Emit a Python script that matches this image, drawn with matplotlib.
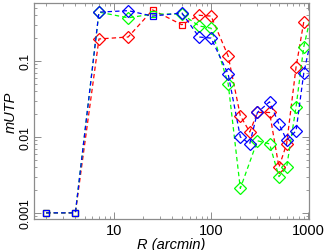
import numpy as np
import matplotlib
matplotlib.use("Agg")
import matplotlib.pyplot as plt
from matplotlib.ticker import LogLocator, FixedLocator, FixedFormatter, NullFormatter

plt.rcParams['font.family'] = ['Liberation Sans', 'DejaVu Sans']

# radius grid (arcmin)
r_blue = [2, 4, 7, 14, 25, 50, 75, 100, 150, 200, 250, 300, 400, 500, 600, 750, 900, 1200]
m_blue = [0.001, 0.001, 0.44, 0.46, 0.39, 0.43, 0.207, 0.20, 0.067, 0.010, 0.0081,
          0.021, 0.029, 0.0148, 0.0091, 0.012, 0.069, 0.38]
s_blue = ['s', 's', 'D', 'D', 's', 'D', 'D', 'D', 'D', 'D', 'D', 'D', 'D', 'D', 'D', 'D', 'D', 'D']

r_red = [2, 4, 7, 14, 25, 50, 75, 100, 150, 200, 250, 300, 400, 500, 600, 750, 900]
m_red = [0.001, 0.001, 0.195, 0.207, 0.47, 0.30, 0.40, 0.39, 0.116, 0.019, 0.0116,
         0.021, 0.021, 0.0040, 0.0081, 0.083, 0.326]
s_red = ['s', 's', 'D', 'D', 's', 's', 'D', 'D', 'D', 'D', 'D', 'D', 'D', 'D', 'D', 'D', 'D']

r_green = [2, 4, 7, 14, 25, 50, 75, 100, 150, 200, 300, 400, 500, 600, 750, 900, 1200]
m_green = [0.001, 0.001, 0.44, 0.37, 0.415, 0.415, 0.29, 0.27, 0.050, 0.0021, 0.0089,
           0.0081, 0.0030, 0.0040, 0.0248, 0.153, 0.76]
s_green = ['s', 's', 'D', 'D', 's', 'D', 'D', 'D', 'D', 'D', 'D', 'D', 'D', 'D', 'D', 'D', 'D']

fig = plt.figure(figsize=(3.27, 2.51), dpi=100)
ax = fig.add_axes([0.104, 0.1235, 0.841, 0.8605])

for r, m, s, c in [(r_red, m_red, s_red, '#ff0000'),
                   (r_green, m_green, s_green, '#00ff00'),
                   (r_blue, m_blue, s_blue, '#0000ff')]:
    ax.plot(r, m, color=c, lw=0.9, ls=(0, (3.5, 2.5)))
    for xi, yi, mk in zip(r, m, s):
        ax.plot([xi], [yi], marker=mk, ms=6.3 if mk == 'D' else 5.0,
                mfc='none', mec=c, mew=0.9, ls='none')

ax.set_xscale('log')
ax.set_yscale('log')
ax.set_xlim(1.5, 1020)
ax.set_ylim(0.00083, 0.58)

ax.yaxis.set_major_locator(FixedLocator([0.001, 0.01, 0.1]))
ax.yaxis.set_major_formatter(FixedFormatter(['0.001', '0.01', '0.1']))
ax.yaxis.set_minor_locator(LogLocator(base=10, subs=np.arange(2, 10), numticks=20))
ax.yaxis.set_minor_formatter(NullFormatter())
ax.xaxis.set_major_locator(FixedLocator([10, 100, 1000]))
ax.xaxis.set_major_formatter(FixedFormatter(['10', '100', '1000']))
ax.xaxis.set_minor_locator(LogLocator(base=10, subs=np.arange(2, 10), numticks=20))
ax.xaxis.set_minor_formatter(NullFormatter())

for sp in ax.spines.values():
    sp.set_color('0.55')
    sp.set_linewidth(0.9)
ax.tick_params(which='both', direction='in', top=True, right=True, color='0.55')
ax.tick_params(which='major', length=5, width=0.7)
ax.tick_params(which='minor', length=2.5, width=0.6)
ax.tick_params(axis='x', labelsize=10.5, pad=3)
ax.tick_params(axis='y', labelsize=8.8, pad=2)
for lab in ax.get_yticklabels():
    lab.set_rotation(90)
    lab.set_va('center')

ax.set_xlabel('R (arcmin)', fontsize=10.5, style='italic', labelpad=0)
ax.set_ylabel('mUTP', fontsize=10.5, style='italic', labelpad=1)

fig.savefig('out.png', dpi=100)
